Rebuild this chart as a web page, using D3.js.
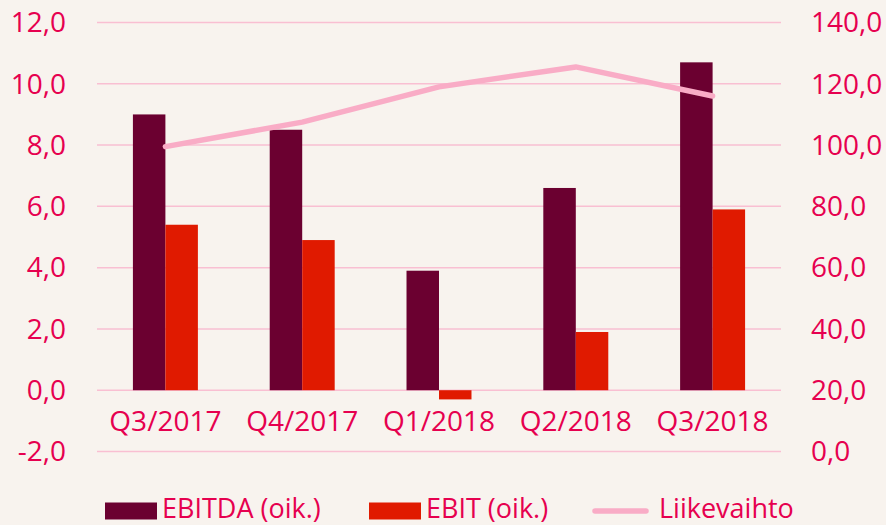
<!DOCTYPE html>
<html>
<head>
<meta charset="utf-8">
<script src="https://cdnjs.cloudflare.com/ajax/libs/d3/7.8.5/d3.min.js"></script>
<style>
  body { margin: 0; background: #f8f3ee; }
  text { font-family: "Open Sans", sans-serif; fill: #e6004f; }
</style>
</head>
<body>
<div id="container"></div>
<script>
var width = 886,
    height = 525,
    margin = { left: 97, top: 22.5, right: 105, bottom: 73.5 },
    gWidth = width - margin.left - margin.right,
    gHeight = height - margin.top - margin.bottom;

var categories = ['Q3/2017', 'Q4/2017', 'Q1/2018', 'Q2/2018', 'Q3/2018'];
var ebitda = [9.0, 8.5, 3.9, 6.6, 10.7];
var ebit = [5.4, 4.9, -0.3, 1.9, 5.9];
var liikevaihto = [99.5, 107.5, 119.0, 125.5, 116.0];
var leftTicks = [-2, 0, 2, 4, 6, 8, 10, 12];
var rightTicks = [0, 20, 40, 60, 80, 100, 120, 140];

// finnish style: comma decimal, plain hyphen minus
var fmt = function(v) { return d3.format('.1f')(v).replace('.', ',').replace('\u2212', '-'); };

var svg = d3.select('#container')
    .append('svg')
    .attr('width', width)
    .attr('height', height);
svg.append('rect').attr('width', width).attr('height', height).attr('fill', '#f8f3ee');

var g = svg.append('g')
    .attr('transform', 'translate(' + margin.left + ',' + margin.top + ')');

var scaleX = d3.scaleBand()
    .domain(categories)
    .range([0, gWidth]);
var scaleY = d3.scaleLinear()
    .domain([-2, 12])
    .range([gHeight, 0]);
var scaleY2 = d3.scaleLinear()
    .domain([0, 140])
    .range([gHeight, 0]);

var barW = scaleX.bandwidth() * 0.2375;

// gridlines
g.selectAll('.grid')
    .data(leftTicks)
    .enter()
    .append('line')
    .attr('x1', 0)
    .attr('x2', gWidth)
    .attr('y1', function(d) { return scaleY(d); })
    .attr('y2', function(d) { return scaleY(d); })
    .attr('stroke', '#f9bfd2')
    .attr('stroke-width', 1.5);

// left axis labels
g.selectAll('.ly')
    .data(leftTicks)
    .enter()
    .append('text')
    .attr('x', -31)
    .attr('y', function(d) { return scaleY(d); })
    .attr('dy', '0.35em')
    .attr('text-anchor', 'end')
    .style('font-size', '28px')
    .text(fmt);

// right axis labels
g.selectAll('.ry')
    .data(rightTicks)
    .enter()
    .append('text')
    .attr('x', gWidth + 30)
    .attr('y', function(d) { return scaleY2(d); })
    .attr('dy', '0.35em')
    .attr('text-anchor', 'start')
    .style('font-size', '28px')
    .text(fmt);

// bars
g.selectAll('.ebitda')
    .data(ebitda)
    .enter()
    .append('rect')
    .attr('x', function(d, i) { return scaleX(categories[i]) + scaleX.bandwidth() / 2 - barW; })
    .attr('y', function(d) { return scaleY(Math.max(d, 0)); })
    .attr('width', barW)
    .attr('height', function(d) { return Math.abs(scaleY(d) - scaleY(0)); })
    .attr('fill', '#6b0030');

g.selectAll('.ebit')
    .data(ebit)
    .enter()
    .append('rect')
    .attr('x', function(d, i) { return scaleX(categories[i]) + scaleX.bandwidth() / 2; })
    .attr('y', function(d) { return scaleY(Math.max(d, 0)); })
    .attr('width', barW)
    .attr('height', function(d) { return Math.abs(scaleY(d) - scaleY(0)); })
    .attr('fill', '#e01a00');

// line
var lineGenerator = d3.line()
    .x(function(d, i) { return scaleX(categories[i]) + scaleX.bandwidth() / 2; })
    .y(function(d) { return scaleY2(d); });

g.append('path')
    .attr('d', lineGenerator(liikevaihto))
    .attr('fill', 'none')
    .attr('stroke', '#f9acc6')
    .attr('stroke-width', 5.5)
    .attr('stroke-linecap', 'round')
    .attr('stroke-linejoin', 'round');

// category labels
g.selectAll('.cat')
    .data(categories)
    .enter()
    .append('text')
    .attr('x', function(d) { return scaleX(d) + scaleX.bandwidth() / 2; })
    .attr('y', scaleY(-1))
    .attr('dy', '0.35em')
    .attr('text-anchor', 'middle')
    .style('font-size', '28px')
    .text(function(d) { return d; });

// legend
var legend = svg.append('g').attr('transform', 'translate(0,511)');
legend.append('rect').attr('x', 105).attr('y', -8.5).attr('width', 52).attr('height', 17).attr('fill', '#6b0030');
legend.append('text').attr('x', 162).attr('y', 7).style('font-size', '27px').text('EBITDA (oik.)');
legend.append('rect').attr('x', 369).attr('y', -8.5).attr('width', 52).attr('height', 17).attr('fill', '#e01a00');
legend.append('text').attr('x', 426).attr('y', 7).style('font-size', '27px').text('EBIT (oik.)');
legend.append('line').attr('x1', 595).attr('x2', 646).attr('y1', 0).attr('y2', 0)
    .attr('stroke', '#f9acc6').attr('stroke-width', 5.5).attr('stroke-linecap', 'round');
legend.append('text').attr('x', 659).attr('y', 7).style('font-size', '27px').text('Liikevaihto');
</script>
</body>
</html>
